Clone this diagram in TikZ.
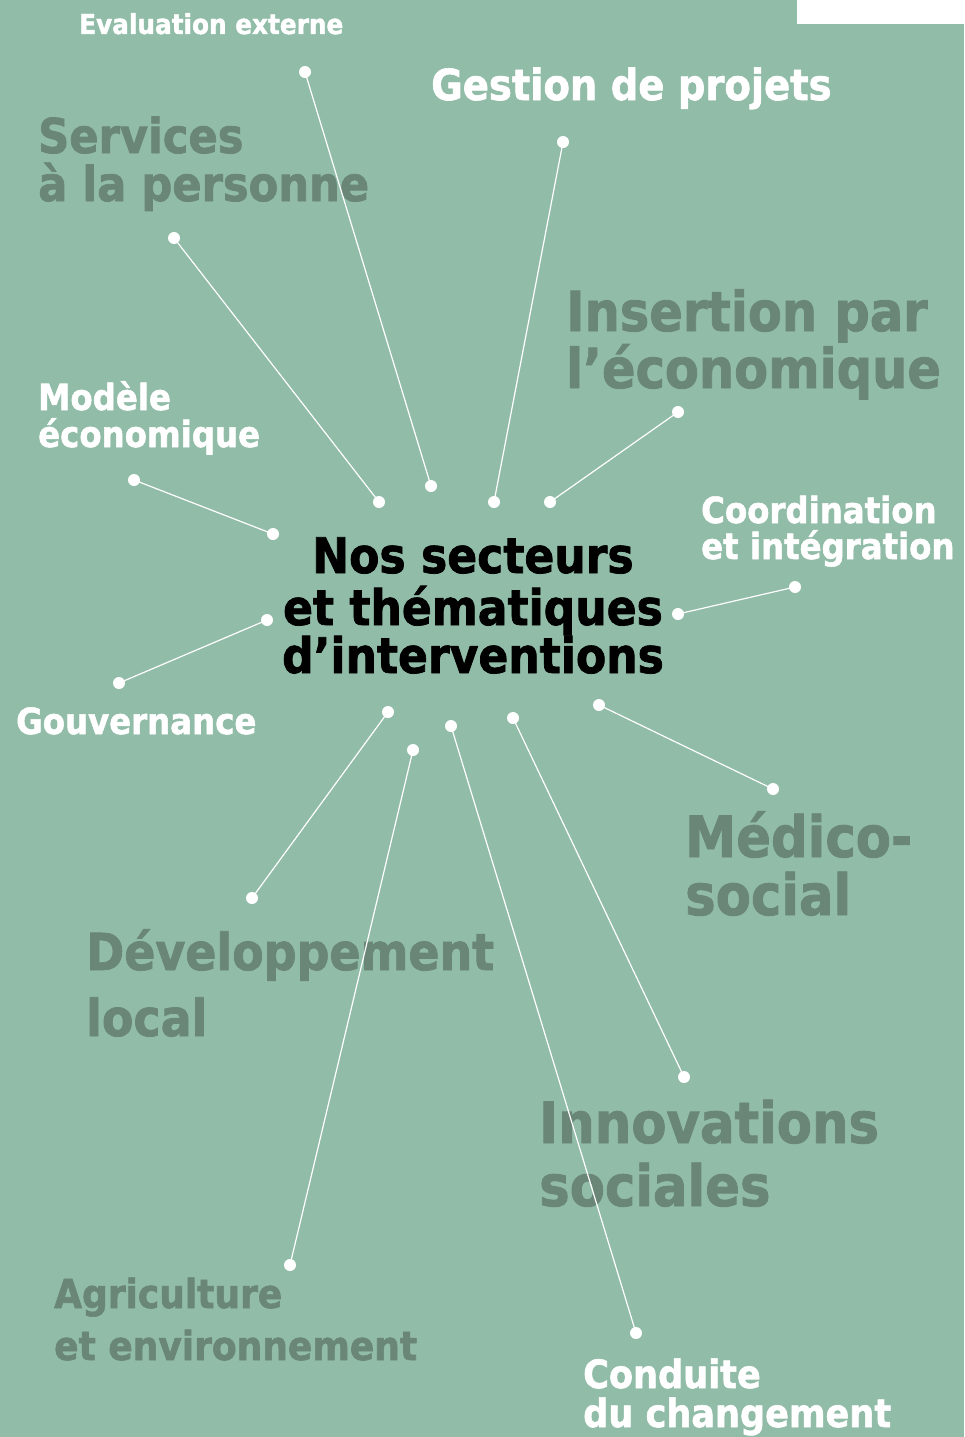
\documentclass[tikz,border=0pt]{standalone}
\usepackage{fontspec}
\setmainfont{DejaVu Sans}[FakeStretch=0.9,BoldFeatures={FakeBold=1.5}]
\definecolor{bgc}{RGB}{145,188,168}
\definecolor{darkc}{RGB}{106,134,119}
\tikzset{
  dot/.style={circle,fill=white,inner sep=0pt,minimum size=12pt},
  link/.style={draw=white,line width=1.2pt},
  lbl/.style={anchor=base west,inner sep=0pt,font=\bfseries\fontsize{#1}{#1}\selectfont},
  wlbl/.style={lbl=#1,text=white},
  dlbl/.style={lbl=#1,text=darkc},
  clbl/.style={anchor=base,inner sep=0pt,text=black,font=\bfseries\fontsize{49}{49}\selectfont}
}
\begin{document}
\begin{tikzpicture}[x=1pt,y=-1pt]
\fill[bgc] (0,0) rectangle (964,1437);
\useasboundingbox (0,0) rectangle (964,1437);
\fill[white] (797,0) rectangle (964,24);
% labels
\node[wlbl=27.5] (eval) at (79,34) {Evaluation externe};
\node[wlbl=42.8] (gest) at (431,100) {Gestion de projets};
\node[dlbl=48] (serv1) at (38,153) {Services};
\node[dlbl=48] (serv2) at (38,201) {à la personne};
\node[dlbl=55] (ins1) at (566,331) {Insertion par};
\node[dlbl=55] (ins2) at (566,388) {l’économique};
\node[wlbl=36] (mod1) at (38,410) {Modèle};
\node[wlbl=36] (mod2) at (38,447) {économique};
\node[wlbl=36] (coo1) at (701,523) {Coordination};
\node[wlbl=36] (coo2) at (701,559) {et intégration};
\node[clbl] (c1) at (473,573) {Nos secteurs};
\node[clbl] (c2) at (473,625) {et thématiques};
\node[clbl] (c3) at (473,673) {d’interventions};
\node[wlbl=36] (gouv) at (16,734) {Gouvernance};
\node[dlbl=57] (med1) at (685,857) {Médico-};
\node[dlbl=57] (med2) at (685,915) {social};
\node[dlbl=51] (dev1) at (86,970) {Développement};
\node[dlbl=51] (dev2) at (86,1036) {local};
\node[dlbl=57] (inn1) at (539,1143) {Innovations};
\node[dlbl=57] (inn2) at (539,1206) {sociales};
\node[dlbl=40] (agr1) at (54,1308) {Agriculture};
\node[dlbl=40] (agr2) at (54,1360) {et environnement};
\node[wlbl=39] (con1) at (583,1388) {Conduite};
\node[wlbl=39] (con2) at (583,1427) {du changement};
% dots
\node[dot] (o1) at (305,72) {};   \node[dot] (i1) at (431,486) {};
\node[dot] (o2) at (563,142) {};  \node[dot] (i2) at (494,502) {};
\node[dot] (o3) at (174,238) {};  \node[dot] (i3) at (379,502) {};
\node[dot] (o4) at (678,412) {};  \node[dot] (i4) at (550,502) {};
\node[dot] (o5) at (134,480) {};  \node[dot] (i5) at (273,534) {};
\node[dot] (o6) at (795,587) {};  \node[dot] (i6) at (678,614) {};
\node[dot] (o7) at (119,683) {};  \node[dot] (i7) at (267,620) {};
\node[dot] (o8) at (773,789) {};  \node[dot] (i8) at (599,705) {};
\node[dot] (o9) at (252,898) {};  \node[dot] (i9) at (388,712) {};
\node[dot] (o10) at (290,1265) {}; \node[dot] (i10) at (413,750) {};
\node[dot] (o11) at (636,1333) {}; \node[dot] (i11) at (451,726) {};
\node[dot] (o12) at (684,1077) {}; \node[dot] (i12) at (513,718) {};
\foreach \k in {1,...,12} { \draw[link] (o\k.center) -- (i\k.center); }
\end{tikzpicture}
\end{document}
